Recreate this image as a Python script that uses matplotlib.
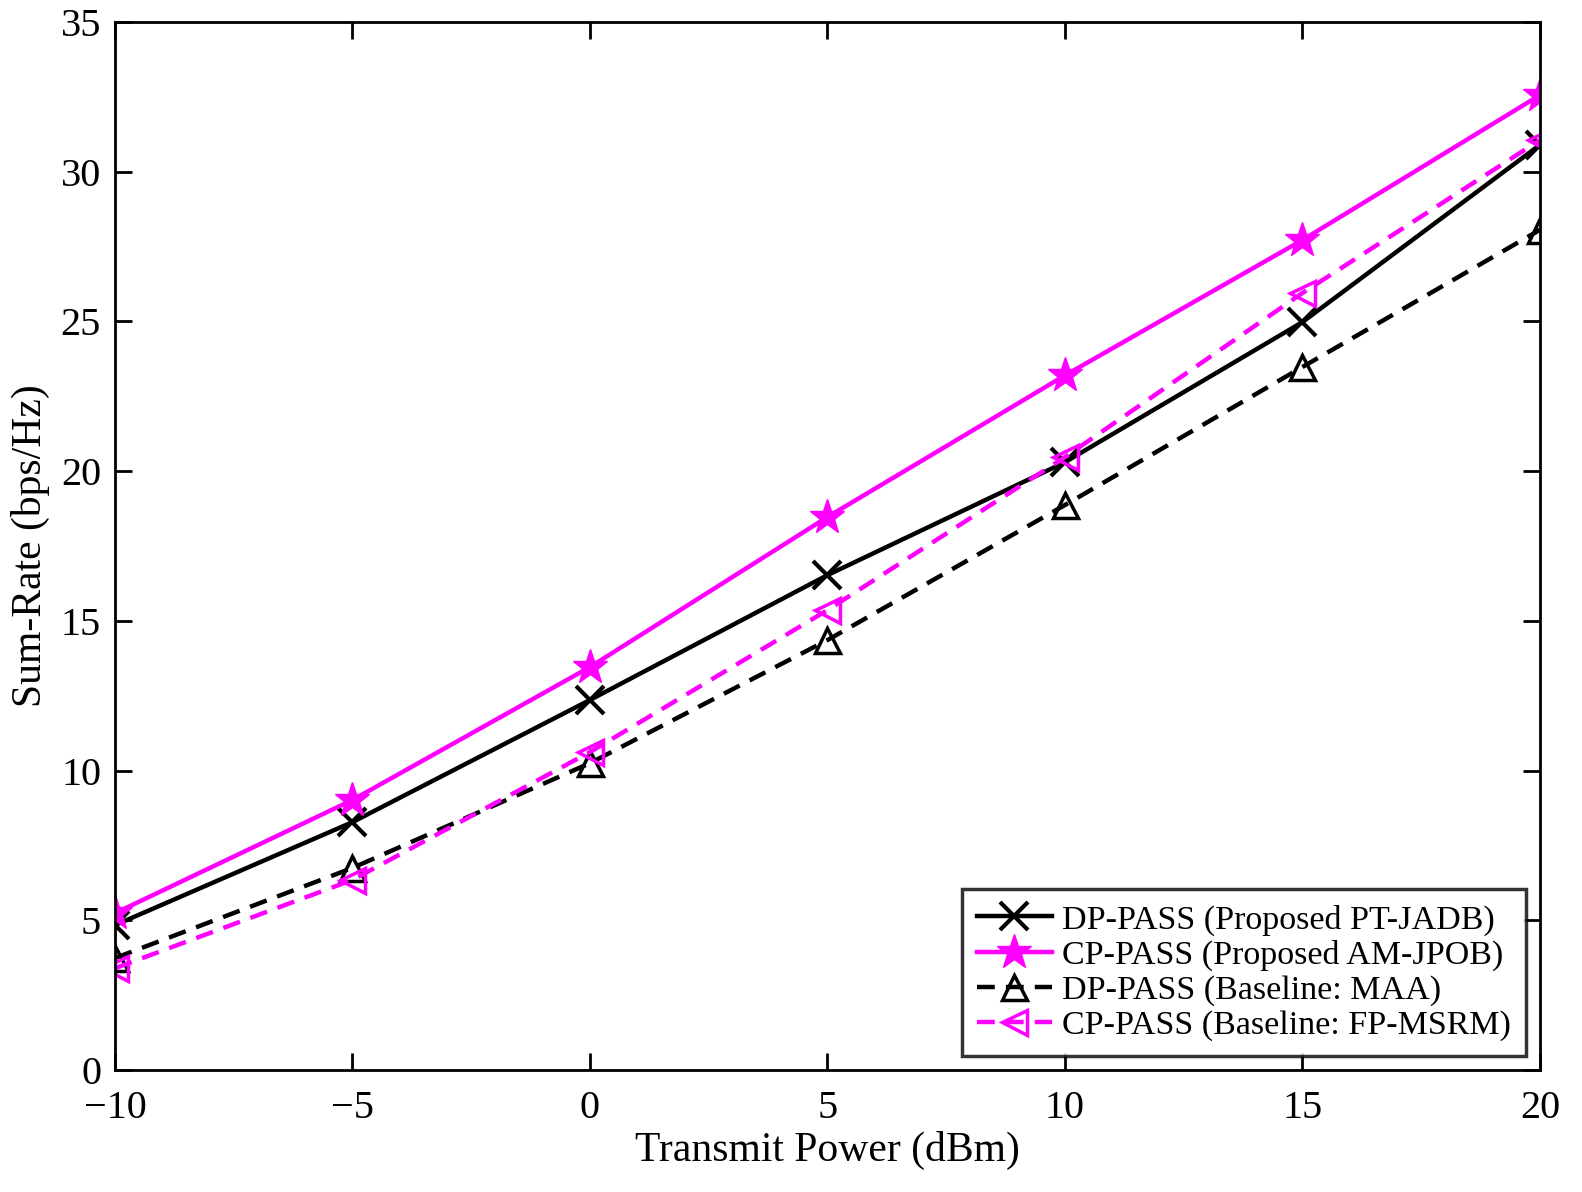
import matplotlib
matplotlib.use("Agg")
import matplotlib.pyplot as plt

plt.rcParams["font.family"] = ["Liberation Serif", "DejaVu Serif"]

power = [-10, -5, 0, 5, 10, 15, 20]
dp_proposed = [4.84, 8.28, 12.36, 16.53, 20.3, 24.98, 30.9]
cp_proposed = [5.24, 9.02, 13.46, 18.47, 23.2, 27.72, 32.56]
dp_baseline = [3.74, 6.75, 10.25, 14.36, 18.87, 23.48, 28.06]
cp_baseline = [3.4, 6.35, 10.62, 15.36, 20.47, 25.95, 31.06]

labels = ["DP-PASS (Proposed PT-JADB)", "CP-PASS (Proposed AM-JPOB)",
          "DP-PASS (Baseline: MAA)", "CP-PASS (Baseline: FP-MSRM)"]

fig = plt.figure(figsize=(15.82, 11.92), dpi=100)
ax = fig.add_axes([0.0727, 0.1023, 0.9007, 0.8792])

mag = "#ff00ff"
lw = 3.2
ax.plot(power, dp_proposed, "-", color="k", lw=lw, marker="x", ms=20, mew=3,
        label=labels[0])
ax.plot(power, cp_proposed, "-", color=mag, lw=lw, marker="*", ms=26,
        mfc=mag, mec=mag, label=labels[1])
ax.plot(power, dp_baseline, "--", color="k", lw=lw, marker="^", ms=18,
        mfc="none", mew=2.5, dashes=(4, 2.5), label=labels[2])
ax.plot(power, cp_baseline, "--", color=mag, lw=lw, marker="<", ms=18,
        mfc="none", mew=2.5, dashes=(4, 2.5), label=labels[3])

ax.set_xlim(-10, 20)
ax.set_ylim(0, 35)
ax.set_xticks([-10, -5, 0, 5, 10, 15, 20])
ax.set_xticklabels(["\u221210", "\u22125", "0", "5", "10", "15", "20"])
ax.set_yticks(range(0, 36, 5))
ax.tick_params(direction="in", top=True, right=True, length=12, width=2,
               labelsize=29)
ax.tick_params(axis="x", pad=14)
ax.tick_params(axis="y", pad=10)
for t in ax.get_yticklabels():
    t.set_verticalalignment("center_baseline")
for s in ax.spines.values():
    s.set_linewidth(2)

ax.set_xlabel("Transmit Power (dBm)", fontsize=30, labelpad=3)
ax.set_ylabel("Sum-Rate (bps/Hz)", fontsize=30, labelpad=8)

leg = ax.legend(loc="lower right", fontsize=24.5, frameon=True, fancybox=False,
                edgecolor="k", handlelength=2.2, handletextpad=0.3,
                borderpad=0.45, labelspacing=0.12, borderaxespad=0.4)
leg.get_frame().set_linewidth(2.5)

fig.savefig("out.png", dpi=100)
